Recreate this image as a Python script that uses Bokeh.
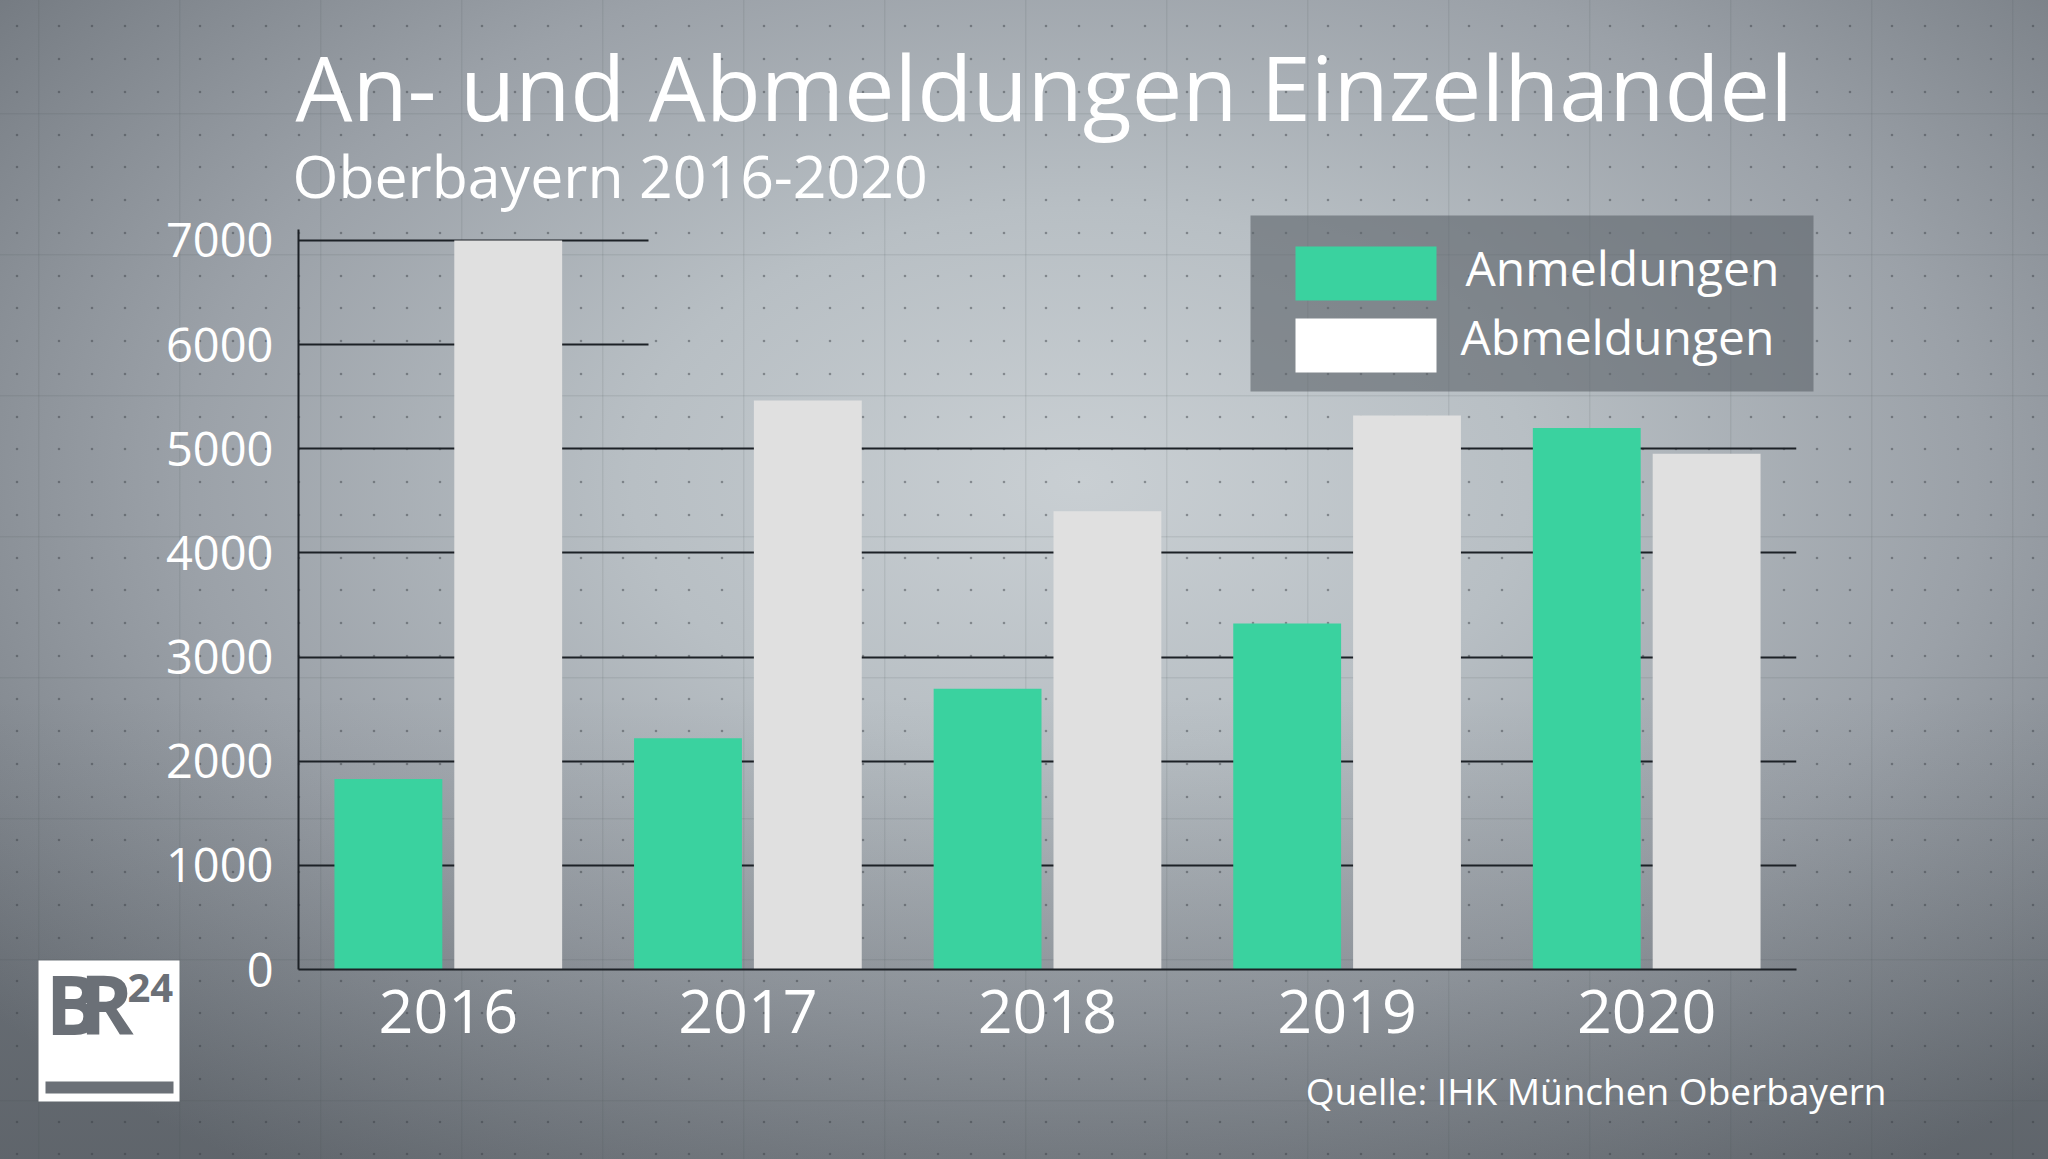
from urllib.parse import quote
from bokeh.plotting import figure
from bokeh.models import (Range1d, FixedTicker, Grid, InlineStyleSheet,
                          ColumnDataSource)
from bokeh.core.properties import value
from bokeh.embed import file_html
from bokeh.resources import INLINE

# ---------------- data ----------------
years = ["2016", "2017", "2018", "2019", "2020"]
anmeldungen = [1830, 2220, 2695, 3322, 5200]
abmeldungen = [7000, 5464, 4401, 5318, 4952]
y_ticks = [0, 1000, 2000, 3000, 4000, 5000, 6000, 7000]
full_grid_ticks = [1000, 2000, 3000, 4000, 5000]
short_grid_ticks = [6000, 7000]

title_text = "An- und Abmeldungen Einzelhandel"
subtitle_text = "Oberbayern 2016-2020"
source_text = "Quelle: IHK München Oberbayern"
legend_labels = ["Anmeldungen", "Abmeldungen"]

# ---------------- style ----------------
GREEN = "#3ad29f"
LIGHT = "#e0e0e0"
LINE = "#1c2126"
LOGO = "#6b7077"
FONT = "Open Sans"
W, H = 2048, 1159
BASE_K = 0.39   # baseline correction (fraction of font size)

# ================= background / decoration layer =================
bg = figure(width=W, height=H, output_backend="svg", toolbar_location=None,
            x_range=Range1d(0, W), y_range=Range1d(H, 0),
            x_axis_location=None, y_axis_location=None, min_border=0)
bg.title_location = None
bg.grid.visible = False
bg.outline_line_color = None
bg.border_fill_alpha = 0
bg.background_fill_alpha = 0

tile = ["<svg xmlns='http://www.w3.org/2000/svg' width='141' height='141'>",
        "<rect x='0' y='0' width='141' height='1.5' fill='rgba(60,66,72,0.10)'/>",
        "<rect x='0' y='0' width='1.5' height='141' fill='rgba(60,66,72,0.10)'/>"]
for cx in (21, 54, 87, 120):
    for cy in (22, 54, 87, 120):
        tile.append(f"<circle cx='{cx}' cy='{cy}' r='1.3' fill='rgba(55,60,66,0.45)'/>")
tile.append("</svg>")
tile_url = "data:image/svg+xml," + quote("".join(tile))
css = f""":host {{
  background-image: url("{tile_url}"),
    linear-gradient(to bottom, rgba(0,0,0,0) 60%, rgba(20,24,28,0.18) 100%),
    radial-gradient(ellipse 1400px 850px at 1080px 480px, #c9cfd3 0%, #b8bfc4 32%, #9ba1a8 64%, #81878e 86%, #70767d 100%);
  background-size: 141px 141px, 100% 100%, 100% 100%;
  background-position: 38px 113px, 0 0, 0 0;
  background-repeat: repeat, no-repeat, no-repeat;
}}"""
bg.stylesheets = [InlineStyleSheet(css=css)]


def txt(x, baseline, text, size, align="left", color="white", style="normal"):
    bg.text(x=[x], y=[baseline - BASE_K * size], text=[text], text_font=value(FONT),
            text_font_size=value(f"{size}px"), text_color=color, text_align=align,
            text_baseline="alphabetic", text_font_style=style)


def rect(l, r, t, b, color, alpha=1.0):
    bg.quad(left=[l], right=[r], top=[t], bottom=[b], fill_color=color,
            fill_alpha=alpha, line_color=None)


# titles and source
txt(295, 121, title_text, 90)
txt(292, 198, subtitle_text, 59)
txt(1886, 1104, source_text, 37, align="right")

# legend
rect(1250, 1813, 215, 391, "#5a6068", 0.6)
rect(1295, 1436, 246, 300, GREEN)
rect(1295, 1436, 318, 372, "#ffffff")
txt(1465, 286, legend_labels[0], 48)
txt(1460, 355, legend_labels[1], 48)

# BR24 logo
rect(38, 179, 960, 1101, "#ffffff")
rect(45, 173, 1081, 1093, LOGO)
txt(45, 1034, "B", 82, color=LOGO, style="bold")
txt(79, 1034, "R", 82, color=LOGO, style="bold")
txt(127, 1003, "24", 40, color=LOGO, style="bold")

# ================= chart layer (overlaid on top) =================
idx = list(range(len(years)))
src = ColumnDataSource(dict(
    xa=[i - 0.2 for i in idx],
    xb=[i + 0.2 for i in idx],
    an=anmeldungen,
    ab=abmeldungen,
))

p = figure(width=W, height=H, output_backend="svg", toolbar_location=None,
           x_range=Range1d(-0.5, len(years) - 0.5), y_range=Range1d(0, 7105),
           min_border_left=298, min_border_right=252,
           min_border_top=229, min_border_bottom=190)
p.title_location = None
p.border_fill_alpha = 0
p.background_fill_alpha = 0
p.outline_line_color = None
p.styles = {"position": "absolute", "left": "0px", "top": "0px"}

p.xgrid.visible = False
p.ygrid.ticker = FixedTicker(ticks=full_grid_ticks)
p.ygrid.grid_line_color = LINE
p.ygrid.grid_line_width = 2
g2 = Grid(dimension=1, ticker=FixedTicker(ticks=short_grid_ticks),
          cross_bounds=(-0.5, 0.668), grid_line_color=LINE, grid_line_width=2)
p.add_layout(g2)

p.vbar(x="xa", top="an", width=0.36, source=src, fill_color=GREEN, line_color=None)
p.vbar(x="xb", top="ab", width=0.36, source=src, fill_color=LIGHT, line_color=None)

for ax in (p.xaxis[0], p.yaxis[0]):
    ax.axis_line_color = LINE
    ax.axis_line_width = 2
    ax.major_tick_line_color = None
    ax.minor_tick_line_color = None
    ax.major_label_text_color = "white"
    ax.major_label_text_font = FONT

p.xaxis.ticker = FixedTicker(ticks=idx)
p.xaxis.major_label_overrides = {i: y for i, y in zip(idx, years)}
p.xaxis.major_label_text_font_size = "61px"
p.xaxis.major_label_standoff = 14

p.yaxis.ticker = FixedTicker(ticks=y_ticks)
p.yaxis.major_label_text_font_size = "47px"
p.yaxis.major_label_standoff = 19

html = file_html([bg, p], INLINE)
html = html.replace("<body>", '<body style="background:#767c83">', 1)
open("out.html", "w").write(html)
